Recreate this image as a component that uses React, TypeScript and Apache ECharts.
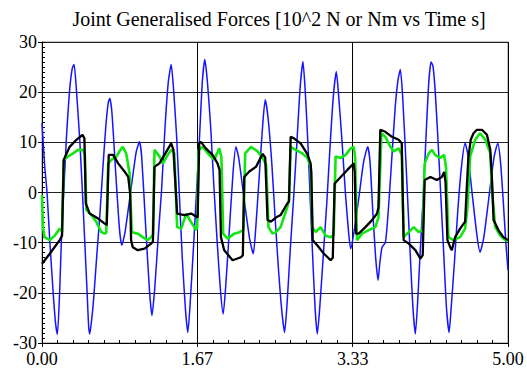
import React, { useEffect, useRef } from "react";
import * as echarts from "echarts";

const titleText = "Joint Generalised Forces [10^2 N or Nm vs Time s]";
const xTickLabels = ["0.00", "1.67", "3.33", "5.00"];

const blueData: number[][] = [
  [0, 13.8], [0.03, 5], [0.054, 0], [0.083, -9.5], [0.12, -20], [0.145, -26], [0.165, -28.3],
  [0.19, -19.5], [0.208, -9.5], [0.233, 0], [0.261, 10.5], [0.297, 20.5], [0.325, 24.8], [0.344, 25.5],
  [0.369, 20.5], [0.405, 10.5], [0.434, 0], [0.458, -9.5], [0.483, -19.5], [0.5, -26.5], [0.512, -28.2],
  [0.535, -25], [0.555, -21], [0.59, -12], [0.62, -4.7], [0.65, 4], [0.684, 13], [0.71, 17.8], [0.727, 18.8],
  [0.75, 16], [0.79, 4.2], [0.83, -7], [0.856, -10.5],
  [0.89, -8], [0.95, 0], [1.01, 8], [1.046, 10.1],
  [1.07, 7], [1.113, -7], [1.155, -20], [1.18, -24.5],
  [1.21, -19], [1.25, -8], [1.283, 0.5], [1.32, 13], [1.355, 22], [1.386, 25.5],
  [1.41, 21], [1.445, 11], [1.475, -1], [1.505, -13], [1.54, -23.5], [1.565, -27.9],
  [1.59, -22], [1.625, -11], [1.656, -0.5], [1.69, 11], [1.72, 22], [1.747, 26.5],
  [1.775, 22], [1.81, 13], [1.845, 1], [1.88, -10], [1.915, -19.5], [1.944, -24.2],
  [1.97, -19], [2.01, -7.5], [2.05, 4], [2.08, 9.1],
  [2.11, 7], [2.17, -1.5], [2.23, -9.5], [2.267, -12.2],
  [2.29, -8], [2.33, 3], [2.37, 14], [2.395, 18.5],
  [2.425, 15], [2.465, 6], [2.5, -4.7], [2.54, -16], [2.575, -24], [2.603, -27.9],
  [2.63, -22], [2.665, -11], [2.7, -1], [2.735, 10], [2.77, 21], [2.8, 26.1],
  [2.825, 20], [2.855, 9], [2.877, -1], [2.9, -11], [2.93, -23], [2.954, -28.2],
  [2.98, -23], [3.02, -12], [3.056, -2], [3.09, 9], [3.125, 19], [3.158, 24.1],
  [3.18, 20], [3.22, 10], [3.255, 0], [3.29, -8], [3.312, -11.2],
  [3.345, -8.2], [3.4, -1], [3.45, 6], [3.495, 9.1],
  [3.52, 6], [3.55, -4], [3.58, -13], [3.606, -17.5],
  [3.625, -14], [3.649, -10.9], [3.684, -10], [3.71, -5], [3.738, 2.5], [3.79, 17.1], [3.82, 22.5], [3.845, 24.5],
  [3.87, 19], [3.9, 8], [3.925, -2], [3.95, -12], [3.98, -23], [4.006, -28.2],
  [4.03, -22], [4.06, -11], [4.09, -1], [4.12, 11], [4.15, 22], [4.175, 26], [4.195, 25.2],
  [4.218, 20.5], [4.25, 10], [4.28, -1], [4.31, -12], [4.34, -23], [4.368, -27.9],
  [4.39, -23], [4.425, -14], [4.46, -4], [4.5, 5], [4.54, 9.8],
  [4.57, 7.5], [4.62, -1], [4.67, -9], [4.7, -11.9],
  [4.74, -9], [4.795, -1], [4.85, 7], [4.89, 9.8],
  [4.92, 6], [4.95, -2], [4.975, -9.5], [5.0, -15.5],
];

const blackData: number[][] = [
  [0, -14.2], [0.083, -12.2], [0.19, -9.5], [0.215, -8.6], [0.233, 6.5], [0.297, 9.1], [0.369, 10.5],
  [0.434, 11.5], [0.455, 10.8], [0.47, -2.2], [0.512, -4.2], [0.602, -5.2], [0.673, -6.2], [0.695, -6.5],
  [0.716, 7.5], [0.763, 7.5], [0.817, 5.8], [0.885, 4.2], [0.925, 3.1], [0.945, 0], [0.956, -9.5],
  [0.974, -10.9], [1.028, -11.5], [1.1, -11.2], [1.17, -10.2], [1.19, -9.8], [1.207, 5.1], [1.26, 5.8],
  [1.314, 7.5], [1.386, 9.8], [1.41, 8.5], [1.45, -4.2], [1.53, -4.5], [1.6, -4.2], [1.654, -4.8],
  [1.67, -5], [1.687, 9.8], [1.705, 10.1], [1.758, 8.8], [1.83, 7.5], [1.883, 5.8], [1.905, 4.5],
  [1.92, -8.9], [1.955, -11.5], [2.045, -13.5], [2.134, -12.9], [2.155, -12.5], [2.17, 3.1],
  [2.224, 4.2], [2.295, 5.1], [2.367, 7.7], [2.395, 7.0], [2.42, -5.5], [2.456, -5.8], [2.51, -5.0],
  [2.56, -4.5], [2.632, -2.2], [2.65, -1.8], [2.668, 11.1], [2.703, 10.8], [2.775, 9.8], [2.846, 7.7],
  [2.882, 5.8], [2.89, 4], [2.905, -9.5], [2.953, -10.5], [3.025, -12.2], [3.097, -13.5], [3.12, -13],
  [3.14, 1.8], [3.205, 3.1], [3.276, 4.5], [3.345, 5.8], [3.355, 4], [3.37, -8.2], [3.398, -8.2],
  [3.47, -6.9], [3.541, -5.5], [3.595, -4.2], [3.61, -3], [3.63, 12.5], [3.684, 12.1], [3.755, 11.1],
  [3.827, 10.5], [3.86, 9.8], [3.88, -9.5], [3.935, -10.2], [4.006, -11.5], [4.06, -13.2],
  [4.085, -12.5], [4.106, 2.5], [4.168, 3.1], [4.236, 2.5], [4.29, 3.1], [4.315, 4.1], [4.33, 2],
  [4.35, -9.5], [4.38, -10.9], [4.397, -11.5], [4.433, -8.9], [4.486, -7.2], [4.54, -5.8],
  [4.555, 0], [4.575, 7], [4.6, 10.5], [4.63, 11.8], [4.666, 12.5], [4.72, 12.5], [4.774, 11.5],
  [4.81, 8.5], [4.83, 2], [4.845, -5.5], [4.9, -7.6], [4.95, -8.9], [5.0, -9.5],
];

const greenData: number[][] = [
  [0, -0.5], [0.01, -7], [0.029, -8.9], [0.083, -9.5], [0.136, -8.6], [0.19, -7.2], [0.215, -7.9],
  [0.233, 6.5], [0.28, 7.2], [0.333, 7.8], [0.387, 8.5], [0.44, 8.5], [0.46, 7.5], [0.476, -3.5],
  [0.53, -4.5], [0.584, -5.9], [0.637, -7.9], [0.673, -8.2], [0.69, -8], [0.71, 5.8], [0.745, 6.5],
  [0.8, 7.2], [0.834, 8.3], [0.867, 9.1], [0.903, 7.8], [0.94, 3.8], [0.963, -7.9], [1.028, -8.2],
  [1.081, -8.9], [1.135, -9.5], [1.17, -8.9], [1.19, -8.5], [1.207, 8.5], [1.26, 7.2], [1.297, 5.8],
  [1.35, 7.5], [1.386, 8.5], [1.42, 7.8], [1.45, -6.9], [1.494, -7.2], [1.547, -4.2], [1.6, -5.9],
  [1.654, -7.5], [1.665, -7], [1.68, 8.5], [1.723, 9.1], [1.794, 7.5], [1.848, 6.5], [1.902, 8.8],
  [1.925, 7], [1.944, -8.2], [1.991, -9.2], [2.063, -8.2], [2.117, -7.9], [2.16, -7.5], [2.18, 7.8],
  [2.242, 9.1], [2.313, 8.2], [2.367, 6.9], [2.405, 5.5], [2.43, -6.9], [2.474, -8.2], [2.51, -7.9],
  [2.56, -6.9], [2.632, -2.9], [2.65, -1.5], [2.668, 9.1], [2.721, 8.5], [2.793, 7.8], [2.846, 6.9],
  [2.882, 5.1], [2.9, -6.9], [2.936, -7.9], [2.99, -6.9], [3.043, -8.6], [3.097, -8.9], [3.13, -8.5],
  [3.15, 7.2], [3.205, 6.9], [3.258, 7.5], [3.312, 8.8], [3.345, 9.1], [3.36, 7], [3.38, -9.5],
  [3.434, -8.2], [3.505, -7.5], [3.577, -6.9], [3.61, -5], [3.642, 11.8], [3.684, 11.1], [3.738, 9.1],
  [3.774, 8.2], [3.827, 8.8], [3.86, 7.5], [3.88, -8.9], [3.935, -7.9], [3.988, -6.9], [4.042, -7.9],
  [4.085, -7.5], [4.106, 5.8], [4.15, 7.8], [4.184, 8.5], [4.218, 7.5], [4.272, 6.9], [4.315, 7.5],
  [4.335, 5], [4.36, -8.9], [4.415, -9.5], [4.486, -8.9], [4.54, -7.2], [4.565, -3], [4.594, 7.2],
  [4.648, 10.5], [4.7, 11.8], [4.756, 10.5], [4.81, 7.8], [4.828, 0.5], [4.863, -6.9], [4.917, -8.6],
  [4.97, -9.5], [5.0, -9.5],
];

const FONT = "Liberation Serif";

export default function App() {
  const ref = useRef<HTMLDivElement>(null);
  useEffect(() => {
    if (!ref.current) return;
    const chart = echarts.init(ref.current, undefined, { renderer: "svg" });
    const xInterval = 5 / 3;
    chart.setOption({
      animation: false,
      backgroundColor: "#ffffff",
      textStyle: { fontFamily: FONT },
      title: {
        text: titleText,
        left: 274,
        textAlign: "center",
        top: 4,
        textStyle: { fontFamily: FONT, fontSize: 20, fontWeight: "normal", color: "#000" },
      },
      grid: {
        left: 42, right: 19, top: 42, bottom: 33,
        show: true, borderColor: "#888", borderWidth: 1, backgroundColor: "transparent",
      },
      xAxis: [
        {
          type: "value", min: 0, max: 5, interval: xInterval,
          axisLine: { show: true, onZero: false, lineStyle: { color: "#000", width: 1 } },
          axisTick: { show: true, inside: true, length: 3, lineStyle: { color: "#000" } },
          minorTick: { show: true, splitNumber: 10, length: 3, lineStyle: { color: "#000" } },
          splitLine: { show: true, lineStyle: { color: "#000", width: 1 } },
          axisLabel: {
            fontFamily: FONT, fontSize: 18, color: "#000", margin: 7,
            formatter: (v: number) => {
              const i = Math.round(v / xInterval);
              return xTickLabels[i] ?? v.toFixed(2);
            },
          },
        },
        {
          type: "value", min: 0, max: 5, interval: xInterval, position: "bottom",
          axisLine: { show: false, onZero: false },
          axisTick: { show: true, inside: false, length: 4, lineStyle: { color: "#000" } },
          splitLine: { show: false },
          axisLabel: { show: false },
        },
      ],
      yAxis: [
        {
          type: "value", min: -30, max: 30, interval: 10,
          axisLine: { show: true, onZero: false, lineStyle: { color: "#000", width: 1 } },
          axisTick: { show: true, inside: true, length: 3, lineStyle: { color: "#000" } },
          minorTick: { show: true, splitNumber: 10, length: 3, lineStyle: { color: "#000" } },
          splitLine: { show: true, lineStyle: { color: "#222", width: 1 } },
          axisLabel: { fontFamily: FONT, fontSize: 18, color: "#000", margin: 5 },
        },
        {
          type: "value", min: -30, max: 30, interval: 10, position: "left",
          axisLine: { show: false, onZero: false },
          axisTick: { show: true, inside: false, length: 4, lineStyle: { color: "#000" } },
          splitLine: { show: false },
          axisLabel: { show: false },
        },
      ],
      series: [
        {
          type: "line", data: blueData, showSymbol: false, symbol: "none", smooth: 0.2,
          lineStyle: { color: "#1414ff", width: 1.5 }, z: 2,
        },
        {
          type: "line", data: greenData, showSymbol: false, symbol: "none",
          lineStyle: { color: "#11e611", width: 2.6 }, z: 3,
        },
        {
          type: "line", data: blackData, showSymbol: false, symbol: "none",
          lineStyle: { color: "#000000", width: 2.3 }, z: 4,
        },
      ],
    });
    return () => chart.dispose();
  }, []);
  return (
    <div
      ref={ref}
      style={{ position: "fixed", left: 0, top: 0, width: 527, height: 376, background: "#fff" }}
    />
  );
}
